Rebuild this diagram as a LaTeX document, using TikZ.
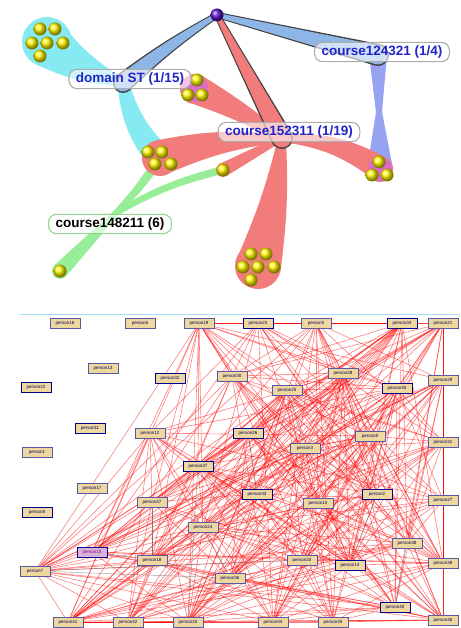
\documentclass[tikz,border=0pt]{standalone}
\usepackage{fontspec}
\setmainfont{Liberation Sans}
\usetikzlibrary{calc,backgrounds}

\definecolor{hubpurple}{HTML}{5A14C8}
\definecolor{bcyan}{HTML}{86EAF2}
\definecolor{bred}{HTML}{F27C7C}
\definecolor{bblue}{HTML}{97A2F0}
\definecolor{bknot}{HTML}{8DB6E6}
\definecolor{bgreen}{HTML}{98EE98}
\definecolor{bmag}{HTML}{DC6CCB}
\definecolor{lblue}{HTML}{2224C8}
\definecolor{ptan}{HTML}{EFD7A0}

% tapered band: [bend]{colour}{from}{to}{width at from}{width at to}
\newcommand{\band}[6][0]{%
  \fill[#2] ($(#3)!#5pt!90:(#4)$) to[bend left=#1] ($(#4)!#6pt!-90:(#3)$)
    -- ($(#4)!#6pt!90:(#3)$) to[bend right=#1] ($(#3)!#5pt!-90:(#4)$) -- cycle;
  \fill[#2] (#3) circle (#5pt) (#4) circle (#6pt);}

\tikzset{
  lbl/.style={draw=gray!65,line width=1.1pt,rounded corners=8pt,fill=white,
    fill opacity=.6,text opacity=1,text=lblue,inner xsep=7pt,minimum height=19pt,
    font=\fontsize{13.5}{14}\selectfont\bfseries},
  pbox/.style={draw=gray!70!blue,line width=.5pt,fill=ptan,inner sep=0pt,
    minimum width=30pt,minimum height=10pt,text=blue!35!black,
    font=\fontsize{4.5}{5}\selectfont},
  pboxb/.style={pbox,draw=blue!55!black,line width=.8pt},
  psel/.style={pbox,draw=blue!55!black,fill=violet!30,text=violet},
  edge/.style={red,line width=.6pt,opacity=.5},
  grayedge/.style={black!60,line width=.5pt,opacity=.6},
}

\begin{document}
\begin{tikzpicture}[x=1pt,y=-1pt]
  \useasboundingbox (0,0) rectangle (460,628);

  \coordinate (hub) at (217,15);
  \coordinate (kst) at (123,83);
  \coordinate (kpe) at (378,55);
  \coordinate (kcs) at (282,138);
  \coordinate (ca) at (47,42);
  \coordinate (cb) at (195,89);
  \coordinate (cc) at (160,158);
  \coordinate (cd) at (223,170);
  \coordinate (ce) at (60,271);
  \coordinate (cf) at (380,169);
  \coordinate (cg) at (258,266);
  \coordinate (jn) at (116,213);
  \coordinate (mid) at (379,112);

  \band[10]{bcyan}{kst}{ca}{4}{25}
  \band[-15]{bcyan}{kst}{cc}{6}{14}
  \band[5]{bgreen}{cc}{jn}{5}{3}
  \band[-8]{bgreen}{cd}{jn}{4}{3}
  \band{bgreen}{jn}{ce}{3}{8}
  \band{bblue}{kpe}{mid}{9}{3}
  \band{bblue}{mid}{cf}{3}{13}
  \band[-4]{bred}{kcs}{cb}{4}{15}
  \band[-8]{bred}{kcs}{cc}{4}{18}
  \band{bred}{kcs}{cd}{3}{7}
  \band[15]{bred}{kcs}{cf}{4}{13}
  \band[5]{bred}{kcs}{cg}{4}{23}
  \fill[bmag] (cb) circle (13) (cf) circle (12);

  \band[-4]{black!75}{hub}{kst}{3}{10}
  \band[-4]{bknot}{hub}{kst}{2}{8.5}
  \band{black!75}{hub}{kpe}{3}{11}
  \band{bknot}{hub}{kpe}{2}{9.5}
  \band{black!75}{hub}{kcs}{3}{11}
  \band{bred}{hub}{kcs}{2}{9.5}
  \shade[ball color=hubpurple] (hub) circle (6.5);

  \foreach \p in {(40,29),(55,29),(32,43),(47,43),(63,43),(40,56),
      (197,80),(188,95),(202,95),(148,152),(162,152),(155,164),(171,164),
      (223,170),(60,271),(379,162),(372,175),(387,175),
      (251,254),(266,254),(243,267),(258,267),(274,267),(251,280)}
    \shade[ball color=yellow!92!orange] \p circle (6.5);

  \node[lbl] (dst) at (130,79) {domain ST (1/15)};
  \node[lbl] (c124) at (382,52) {course124321 (1/4)};
  \node[lbl] (c152) at (289,132) {course152311 (1/19)};
  \node[lbl,draw=green!45!gray!60,text=black] (c148) at (110,224) {course148211 (6)};

  \draw[cyan!35,line width=1pt] (20,314) -- (460,314);

  \foreach \n/\x/\y/\s/\t in {1/65/323/pbox/16,2/140/323/pbox/6,3/103/368/pbox/13,
      4/36/387/pboxb/22,5/170/378/pboxb/32,6/90/428/pboxb/11,7/37/452/pbox/1,
      8/92/488/pbox/17,9/37/512/pboxb/8}
    \node[\s] (q\n) at (\x,\y) {person\t};

  \foreach \n/\x/\y/\s/\t in {1/199/323/pbox/19,2/258/323/pboxb/23,3/316/323/pbox/5,
      4/402/323/pboxb/34,5/443/323/pbox/21,6/232/376/pbox/30,7/343/373/pbox/28,
      8/287/390/pbox/25,9/397/388/pboxb/35,10/443/380/pbox/29,11/150/433/pbox/12,
      12/248/433/pboxb/26,13/305/448/pbox/3,14/370/436/pbox/9,15/443/442/pbox/31,
      16/198/466/pboxb/37,17/257/494/pboxb/33,18/318/503/pbox/10,19/377/494/pboxb/2,
      20/443/500/pbox/27,21/203/527/pbox/24,22/152/560/pbox/18,23/92/552/psel/15,
      24/35/571/pbox/7,25/230/578/pbox/36,26/302/560/pbox/20,27/350/565/pboxb/14,
      28/407/543/pbox/38,29/443/563/pbox/39,30/395/607/pboxb/40,31/68/622/pbox/41,
      32/128/622/pbox/42,33/188/622/pbox/43,34/273/622/pbox/44,35/333/622/pbox/45,
      36/443/620/pbox/46,37/152/502/pbox/47}
    \node[\s] (p\n) at (\x,\y) {person\t};

  \begin{scope}[on background layer]
    \pgfmathsetseed{31}
    \foreach \i in {1,...,37}
      \foreach \j in {\i,...,37}{
        \pgfmathrandominteger{\r}{0}{99}
        \ifnum\r<56 \ifnum\i<\j \draw[edge] (p\i) -- (p\j); \fi\fi
      }
    \foreach \a/\b in {2/3,3/4,4/5,34/35,35/36,31/32,32/33}
      \draw[edge] (p\a) -- (p\b);
    \foreach \a/\b in {37/22,24/25,24/26,21/25,30/28,19/27,12/17,8/13,23/22,16/33}
      \draw[grayedge] (p\a) -- (p\b);
  \end{scope}
\end{tikzpicture}
\end{document}
